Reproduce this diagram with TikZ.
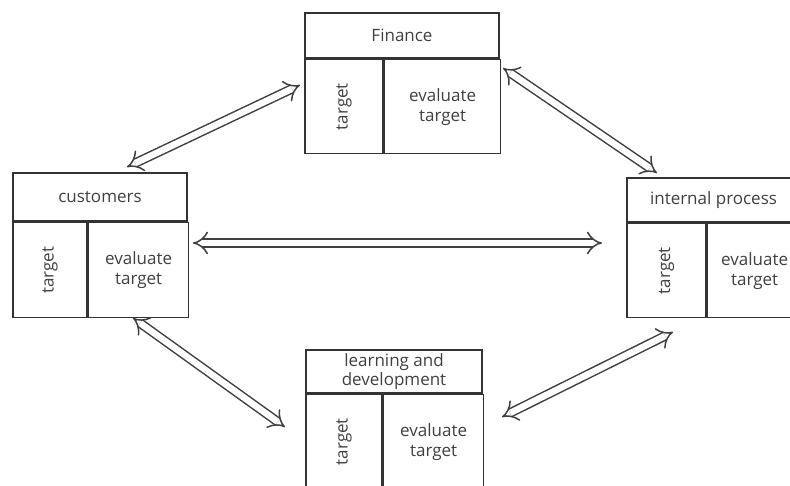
\documentclass[tikz,border=0pt]{standalone}
\usepackage{fontspec}
\setmainfont{Open Sans}
\usepackage{tikz}
\usetikzlibrary{arrows.meta}
\usetikzlibrary{positioning}

\begin{document}
\begin{tikzpicture}[x=1pt, y=-1pt, font=\fontsize{17}{20}\selectfont,
                head/.style={rectangle, draw=black!80, line width=1.6pt, text=black!75, align=center, minimum height=45pt, inner sep=0pt},
                cell/.style={rectangle, draw=black!80, line width=1.6pt, text=black!75, align=center, minimum height=94pt, inner sep=0pt, anchor=north west},
                arrow/.style={draw=black!75, double=white, double distance=6.5pt, line width=1.5pt, {Implies[length=9pt, width=22pt]}-{Implies[length=9pt, width=22pt]}}
            ]
            \clip (0,0) rectangle (790,486);
            % finance
            \node[head, minimum width=194pt] (fin) at (402,35.5) {Finance};
            \node[cell, minimum width=78pt] (fint) at (fin.south west) {\rotatebox{90}{target}};
            \node[cell, minimum width=116pt] (fine) at (fint.north east) {evaluate\\target};
            % customers
            \node[head, minimum width=174pt, minimum height=48pt] (cus) at (100,197) {customers};
            \node[cell, minimum width=74pt, minimum height=95pt] (cust) at (cus.south west) {\rotatebox{90}{target}};
            \node[cell, minimum width=100pt, minimum height=95pt] (cuse) at (cust.north east) {evaluate\\target};
            % internal process
            \node[head, minimum width=173pt, minimum height=44pt] (ipr) at (713.5,200) {internal process};
            \node[cell, minimum width=79pt] (iprt) at (ipr.south west) {\rotatebox{90}{target}};
            \node[cell, minimum width=94pt] (ipre) at (iprt.north east) {evaluate\\target};
            % learning and development
            \node[head, minimum width=176pt, minimum height=43pt, font=\fontsize{17}{18.5}\selectfont] (lrn) at (394,371.5) {learning and\\development};
            \node[cell, minimum width=76pt] (lrnt) at (lrn.south west) {\rotatebox{90}{target}};
            \node[cell, minimum width=100pt] (lrne) at (lrnt.north east) {evaluate\\target};

            \coordinate (c1) at (127,167);
            \coordinate (f1) at (300,85);
            \coordinate (f2) at (503,68);
            \coordinate (i2) at (657,173);
            \coordinate (c3) at (133,318);
            \coordinate (l3) at (285,427);
            \coordinate (i4) at (673,332);
            \coordinate (l4) at (502,417);
            \coordinate (c5) at (193,243);
            \coordinate (i5) at (602,243);

            \path[arrow] (c1) -- (f1);
            \path[arrow] (f2) -- (i2);
            \path[arrow] (c3) -- (l3);
            \path[arrow] (l4) -- (i4);
            \path[arrow] (c5) -- (i5);
        \end{tikzpicture}
\end{document}
